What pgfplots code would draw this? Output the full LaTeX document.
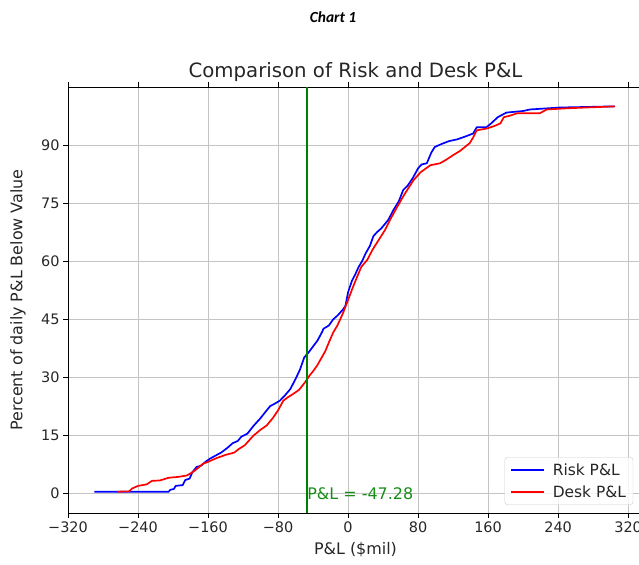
\documentclass[border=0pt]{standalone}
\usepackage{pgfplots}
\usepackage{pgfplotstable}
\pgfplotsset{compat=1.18}
\usepackage{fontspec}
\setmainfont{DejaVu Sans}
\newfontfamily\calibri{Carlito}

\definecolor{mplgreen}{RGB}{0,128,0}
\definecolor{mplblue}{RGB}{0,0,255}
\definecolor{mplred}{RGB}{255,0,0}
\definecolor{gridgray}{RGB}{196,196,196}

% Empirical distribution of daily P&L, risk model
\pgfplotstableread{
x y
-290 0.5
-205 0.5
-203 1.0
-199 1.2
-197 2.0
-189 2.2
-186 3.5
-181 3.9
-178 5.5
-173 6.9
-168 7.2
-163 8.2
-158 9.0
-150 10.0
-145 10.6
-138 11.8
-132 13.0
-126 13.6
-122 14.7
-115 15.5
-108 17.5
-100 19.5
-93 21.5
-89 22.6
-84 23.2
-78 24.0
-72 25.4
-66 27.0
-60 29.6
-55 32.0
-50 35.2
-46 36.2
-40 38.0
-35 39.5
-30 41.6
-28 42.6
-22 43.4
-17 45.0
-12 46.0
-6 47.5
-3 48.5
0 52.0
4.5 55.0
8 56.5
12 58.5
16 60.0
20 62.0
25 64.0
29 66.5
33 67.5
38 68.5
46 70.7
52 73.3
58 75.5
63 78.4
68 79.5
74 81.5
80 84.0
84 85.0
90 85.3
95 88.0
99 89.5
107 90.3
115 91.0
125 91.5
135 92.3
143 93.0
147 94.6
158 94.6
163 95.5
171 97.2
181 98.4
200 98.8
208 99.2
242 99.7
305 100
}\riskdata

% Empirical distribution of daily P&L, desk
\pgfplotstableread{
x y
-264 0.5
-250 0.6
-247 1.3
-240 2.0
-230 2.4
-224 3.3
-215 3.4
-205 4.1
-195 4.3
-189 4.5
-184 4.7
-178 5.5
-172 6.5
-166 7.7
-160 8.2
-150 9.2
-140 10.0
-130 10.6
-125 11.5
-118 12.5
-112 14.0
-108 15.0
-100 16.5
-93 17.6
-86 19.5
-80 21.5
-74 24.0
-68 25.0
-63 25.7
-56 26.8
-49 28.8
-44 30.5
-40 31.6
-35 33.2
-30 35.2
-26 36.8
-22 39.0
-17 41.6
-12 43.5
-6 46.5
0 50.0
5 53.0
10 55.8
15 58.5
22 60.4
28 63.0
35 65.5
42 68.0
48 70.7
56 74.0
65 77.5
75 81.0
83 83.0
94 84.8
105 85.3
112 86.2
120 87.4
128 88.5
139 90.5
143 92.0
147 93.8
159 94.3
168 95.0
174 95.6
178 97.2
185 97.6
193 98.2
219 98.2
227 99.2
250 99.5
305 100
}\deskdata

\begin{document}
\begin{tikzpicture}
\begin{axis}[
  name=ax, at={(0,0)}, anchor=south west,
  scale only axis, width=575bp, height=426bp,
  xmin=-320, xmax=337, ymin=-5, ymax=105,
  clip=false,
  xtick={-320,-240,-160,-80,0,80,160,240,320},
  xticklabels={−320,−240,−160,−80,0,80,160,240,320},
  ytick={0,15,30,45,60,75,90},
  yticklabels={0,15,30,45,60,75,90},
  tick align=outside, major tick length=5bp,
  tick style={black, line width=0.9bp},
  axis line style={black, line width=0.9bp},
  grid=major,
  major grid style={gridgray, line width=1bp},
  tick label style={font=\fontsize{14.5}{17}\selectfont, text=black!85},
  xticklabel style={yshift=-0.5bp},
  title={Comparison of Risk and Desk P\&L},
  title style={font=\fontsize{19.8}{23}\selectfont, text=black!85,
    at={(axis description cs:0.5,1.022)}, anchor=center},
  xlabel={P\&L (\$mil)},
  xlabel style={font=\fontsize{16}{19}\selectfont, text=black!85,
    at={(axis description cs:0.5,-0.087)}, anchor=center},
  ylabel={Percent of daily P\&L Below Value},
  ylabel style={font=\fontsize{16}{19}\selectfont, text=black!85,
    at={(axis description cs:-0.087,0.5)}, anchor=center, rotate=0},
  legend style={at={(axis description cs:0.983,0.019)}, anchor=south east,
    draw=black!20, rounded corners=3bp, fill=white, fill opacity=0.8, text opacity=1,
    font=\fontsize{15.5}{18}\selectfont, text=black!85,
    row sep=5bp, inner xsep=5bp, inner ysep=4bp,
    /tikz/every odd column/.append style={column sep=6bp}},
  legend cell align=left,
  legend image code/.code={\draw[#1, line width=2bp] (0bp,0bp) -- (33bp,0bp);},
]
\addplot[mplblue, line width=1.7bp, line join=round] table[x=x, y=y] {\riskdata};
\addlegendentry{Risk P\&L}
\addplot[mplred, line width=1.7bp, line join=round] table[x=x, y=y] {\deskdata};
\addlegendentry{Desk P\&L}
\addplot[mplgreen, line width=1.8bp, forget plot] coordinates {(-47.28,-5) (-47.28,105)};
\node[anchor=base west, inner sep=0.5bp, text=mplgreen!90,
  font=\fontsize{16}{19}\selectfont] at (axis cs:-47.28,-1.6) {P\&L = -47.28};
\node[anchor=center, font=\calibri\bfseries\itshape\fontsize{15.5}{18}\selectfont]
  at (axis description cs:0.461,1.164) {Chart 1};
\end{axis}
\pgfresetboundingbox
\path[use as bounding box] ([shift={(-68bp,-52bp)}]ax.south west)
  rectangle ([shift={(571bp,513bp)}]ax.south west);
\end{tikzpicture}
\end{document}
